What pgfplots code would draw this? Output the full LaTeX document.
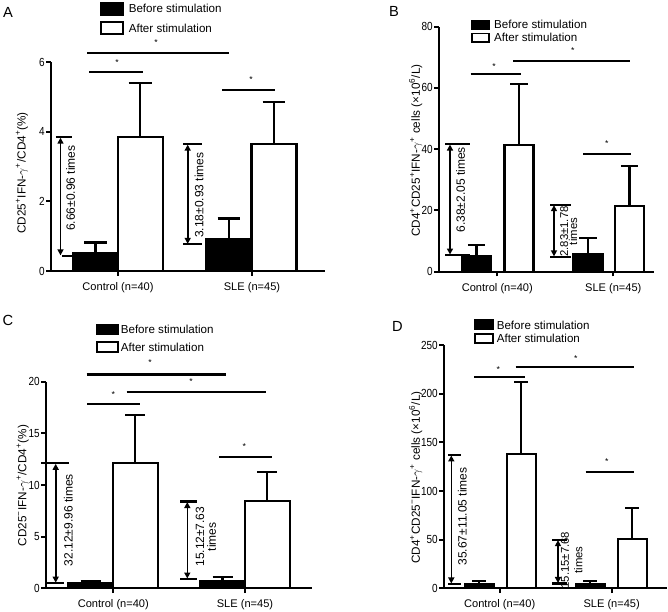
\documentclass[border=0pt]{standalone}
\usepackage{fontspec}
\setmainfont{Liberation Sans}
\newfontfamily\narrowfont{Liberation Sans}[FakeStretch=0.85]
\usepackage{pgfplots}
\pgfplotsset{compat=1.18}
\usetikzlibrary{arrows.meta}

\pgfplotsset{
  panel/.style={
    scale only axis, anchor=south west, clip=false,
    x=0.75pt, ymin=0, enlargelimits=false,
    axis lines=left,
    axis line style={-, line width=1.6pt, black},
    tick align=outside, major tick length=3.5pt,
    tick style={line width=1.5pt, black},
    minor tick num=0,
    /pgf/number format/assume math mode=true,
    yticklabel style={font=\narrowfont\fontsize{8.8}{10}\selectfont, text=black, inner sep=1pt},
    xticklabel style={font=\fontsize{8.3}{10}\selectfont, text=black},
    xticklabel shift=1.5pt,
    legend style={draw=none, fill=none, inner sep=0pt, anchor=north west,
      font=\fontsize{8.7}{10}\selectfont,
      nodes={inner sep=0.5pt, text height=6.3pt, text depth=0pt}},
    legend cell align=left,
  },
  before/.style={ybar, bar shift=0pt, fill=black, draw=black, line width=1.6pt},
  after/.style={ybar, bar shift=0pt, fill=white, draw=black, line width=1.6pt},
  ebar/.style={/pgfplots/error bars/y dir=plus, /pgfplots/error bars/y explicit,
    /pgfplots/error bars/error bar style={line width=1.6pt, black, solid},
    /pgfplots/error bars/error mark options={rotate=90, line width=1.6pt, black, mark size=#1}},
}
\tikzset{
  sig/.style={line width=1.6pt, black},
  dbl/.style={<->, >={Triangle[length=4.5pt,width=4.5pt]}, line width=1.2pt, black},
  star/.style={font=\fontsize{6.5}{6.5}\selectfont, inner sep=0pt},
  note/.style={rotate=90, font=\fontsize{9}{10}\selectfont, inner sep=0pt},
  ylab/.style={rotate=90, font=\fontsize{8.8}{10}\selectfont, inner sep=0pt},
  letter/.style={font=\fontsize{11}{12}\selectfont, inner sep=0pt},
}

\begin{document}
\begin{tikzpicture}
\useasboundingbox (0pt,0pt) rectangle (501pt,458.25pt);

% ---------------- Panel A ----------------
\begin{axis}[panel, at={(38.25pt,255pt)},
  xmin=51, xmax=325, ymax=6, y=26.1pt,
  xtick={118,252}, xticklabels={Control (n=40), SLE (n=45)},
  ytick={0,2,4,6},
  legend style={at={(0.1788,1.290)}, row sep=4.3pt,
    /tikz/every odd column/.append style={column sep=3pt}},
]
\addlegendimage{legend image code/.code={\draw[fill=black,draw=black,line width=1.4pt] (0pt,-4.4pt) rectangle (16.5pt,4.4pt);}}
\addlegendimage{legend image code/.code={\draw[fill=white,draw=black,line width=1.4pt] (0pt,-4.4pt) rectangle (16.5pt,4.4pt);}}
\addplot[before, bar width=33.75pt, ebar=8.6pt] coordinates {(95.5,0.51) +- (0,0.31) (229,0.91) +- (0,0.60)};
\addplot[after, bar width=33.75pt, ebar=8.6pt] coordinates {(140.2,3.86) +- (0,1.53) (274,3.65) +- (0,1.20)};
\legend{Before stimulation, After stimulation}
\draw[sig] (axis cs:56,3.85) -- (axis cs:72.5,3.85);
\draw[sig] (axis cs:62,0.43) -- (axis cs:72,0.43);
\draw[dbl] (axis cs:60.5,0.45) -- (axis cs:60.5,3.83);
\node[note] at (axis cs:70.7,2.38) {6.66±0.96 times};
\draw[sig] (axis cs:183,3.64) -- (axis cs:202,3.64);
\draw[sig] (axis cs:183,0.77) -- (axis cs:202,0.77);
\draw[dbl] (axis cs:187.7,0.78) -- (axis cs:187.7,3.63);
\node[note] at (axis cs:199,2.18) {3.18±0.93 times};
\draw[sig] (axis cs:87,6.27) -- (axis cs:229,6.27);
\node[star] at (axis cs:156,6.56) {*};
\draw[sig] (axis cs:89,5.72) -- (axis cs:143,5.72);
\node[star] at (axis cs:117,6.0) {*};
\draw[sig] (axis cs:222,5.2) -- (axis cs:275,5.2);
\node[star] at (axis cs:251,5.49) {*};
\node[ylab] at (axis cs:22,2.82) {CD25\textsuperscript{+}IFN-$\gamma$\textsuperscript{+}/CD4\textsuperscript{+}(\%)};
\node[letter] at (axis cs:8,7.44) {A};
\end{axis}

% ---------------- Panel B ----------------
\begin{axis}[panel, at={(329.25pt,254.5pt)},
  xmin=439, xmax=654, ymax=80, y=2.297pt,
  xtick={497.3,613.3}, xticklabels={Control (n=40), SLE (n=45)},
  ytick={0,20,40,60,80},
  legend style={at={(0.1488,1.030)}, row sep=2.2pt,
    /tikz/every odd column/.append style={column sep=2.5pt}},
]
\addlegendimage{legend image code/.code={\draw[fill=black,draw=black,line width=1.4pt] (0pt,-3.1pt) rectangle (12.75pt,3.1pt);}}
\addlegendimage{legend image code/.code={\draw[fill=white,draw=black,line width=1.4pt] (0pt,-3.1pt) rectangle (12.75pt,3.1pt);}}
\addplot[before, bar width=21.75pt, ebar=6.5pt] coordinates {(476.5,5.2) +- (0,3.5) (588,5.7) +- (0,5.2)};
\addplot[after, bar width=21.75pt, ebar=6.5pt] coordinates {(519,41.4) +- (0,19.9) (629.5,21.5) +- (0,13.0)};
\legend{Before stimulation, After stimulation}
\draw[sig] (axis cs:445,41.6) -- (axis cs:470,41.6);
\draw[sig] (axis cs:445,5.5) -- (axis cs:470,5.5);
\draw[dbl] (axis cs:450,5.6) -- (axis cs:450,41.5);
\node[note] at (axis cs:460.7,26.7) {6.38±2.05 times};
\draw[sig] (axis cs:550,21.8) -- (axis cs:570.5,21.8);
\draw[sig] (axis cs:550,4.9) -- (axis cs:570.5,4.9);
\draw[dbl] (axis cs:554,5.0) -- (axis cs:554,21.7);
\node[note, align=center, font=\fontsize{8.5}{6.75}\selectfont] at (axis cs:568.8,13.1) {2.83±1.78\\times};
\draw[sig] (axis cs:470.7,64.4) -- (axis cs:520.7,64.4);
\node[star] at (axis cs:494,66.9) {*};
\draw[sig] (axis cs:513,68.8) -- (axis cs:630,68.8);
\node[star] at (axis cs:572.7,72.1) {*};
\draw[sig] (axis cs:583,38.3) -- (axis cs:630.7,38.3);
\node[star] at (axis cs:606.7,41.7) {*};
\node[ylab] at (axis cs:415.7,39.5) {CD4\textsuperscript{+}CD25\textsuperscript{+}IFN-$\gamma$\textsuperscript{+} cells (×10\textsuperscript{6}/L)};
\node[letter] at (axis cs:394,84.9) {B};
\end{axis}

% ---------------- Panel C ----------------
\begin{axis}[panel, at={(34.5pt,17pt)},
  xmin=46, xmax=311.7, ymax=20, y=7.75pt,
  xtick={113.3,245}, xticklabels={Control (n=40), SLE (n=45)},
  ytick={0,5,10,15,20},
  legend style={at={(0.187,1.2827)}, row sep=4.3pt,
    /tikz/every odd column/.append style={column sep=1pt}},
]
\addlegendimage{legend image code/.code={\draw[fill=black,draw=black,line width=1.4pt] (0pt,-3.75pt) rectangle (15.75pt,3.75pt);}}
\addlegendimage{legend image code/.code={\draw[fill=white,draw=black,line width=1.4pt] (0pt,-3.75pt) rectangle (15.75pt,3.75pt);}}
\addplot[before, bar width=33.75pt, ebar=7.5pt] coordinates {(90.5,0.48) +- (0,0.23) (222.5,0.74) +- (0,0.39)};
\addplot[after, bar width=33.75pt, ebar=7.5pt] coordinates {(135.2,12.1) +- (0,4.68) (267.2,8.45) +- (0,2.78)};
\legend{Before stimulation, After stimulation}
\draw[sig] (axis cs:41,12.1) -- (axis cs:69.3,12.1);
\draw[sig] (axis cs:45.7,0.5) -- (axis cs:64.3,0.5);
\draw[dbl] (axis cs:55.7,0.55) -- (axis cs:55.7,12.05);
\node[note] at (axis cs:68.3,6.6) {32.12±9.96 times};
\draw[sig] (axis cs:180,8.4) -- (axis cs:197.3,8.4);
\draw[sig] (axis cs:180,0.9) -- (axis cs:197.3,0.9);
\draw[dbl] (axis cs:187.3,0.95) -- (axis cs:187.3,8.35);
\node[note, align=center, font=\fontsize{9}{8.8}\selectfont] at (axis cs:205.8,5.0) {15.12±7.63\\times};
\draw[sig] (axis cs:86.7,20.7) -- (axis cs:226,20.7);
\node[star] at (axis cs:150,21.9) {*};
\draw[sig] (axis cs:126.7,19.0) -- (axis cs:266,19.0);
\node[star] at (axis cs:191,20.0) {*};
\draw[sig] (axis cs:87.3,17.8) -- (axis cs:140,17.8);
\node[star] at (axis cs:113.3,18.8) {*};
\draw[sig] (axis cs:219,12.7) -- (axis cs:272.3,12.7);
\node[star] at (axis cs:244.3,13.7) {*};
\node[ylab] at (axis cs:22.7,9.95) {CD25\textsuperscript{−}IFN-$\gamma$\textsuperscript{+}/CD4\textsuperscript{+}(\%)};
\node[letter] at (axis cs:8,25.97) {C};
\end{axis}

% ---------------- Panel D ----------------
\begin{axis}[panel, at={(333pt,17pt)},
  xmin=444, xmax=667, ymax=250, y=0.73pt,
  xtick={499.7,611.7}, xticklabels={Control (n=40), SLE (n=45)},
  ytick={0,50,100,150,200,250},
  legend style={at={(0.1345,1.107)}, row sep=1.8pt,
    /tikz/every odd column/.append style={column sep=1.5pt}},
]
\addlegendimage{legend image code/.code={\draw[fill=black,draw=black,line width=1.4pt] (0pt,-3.5pt) rectangle (13.5pt,3.5pt);}}
\addlegendimage{legend image code/.code={\draw[fill=white,draw=black,line width=1.4pt] (0pt,-3.5pt) rectangle (13.5pt,3.5pt);}}
\addplot[before, bar width=21.75pt, ebar=5.3pt] coordinates {(479.3,4.45) +- (0,3.05) (590.2,4.5) +- (0,3.0)};
\addplot[after, bar width=21.75pt, ebar=5.3pt] coordinates {(521.2,138) +- (0,74) (632.2,50.7) +- (0,32.2)};
\legend{Before stimulation, After stimulation}
\draw[sig] (axis cs:448.3,137) -- (axis cs:460.7,137);
\draw[sig] (axis cs:448.3,4.5) -- (axis cs:460.7,4.5);
\draw[dbl] (axis cs:451.3,5) -- (axis cs:451.3,136.5);
\node[note] at (axis cs:462.3,73.8) {35.67±11.05 times};
\draw[sig] (axis cs:552,50) -- (axis cs:567,50);
\draw[sig] (axis cs:552,5) -- (axis cs:567,5);
\draw[dbl] (axis cs:558,5.5) -- (axis cs:558,49.5);
\node[note, align=center, font=\fontsize{8.5}{10}\selectfont] at (axis cs:571.7,29) {15.15±7.68\\times};
\draw[sig] (axis cs:474,216.8) -- (axis cs:524.7,216.8);
\node[star] at (axis cs:498.3,224.3) {*};
\draw[sig] (axis cs:515.7,227) -- (axis cs:634,227);
\node[star] at (axis cs:575.7,236.3) {*};
\draw[sig] (axis cs:585.7,119.8) -- (axis cs:634,119.8);
\node[star] at (axis cs:606.7,130) {*};
\node[ylab] at (axis cs:415.7,113.8) {CD4\textsuperscript{+}CD25\textsuperscript{−}IFN-$\gamma$\textsuperscript{+} cells (×10\textsuperscript{6}/L)};
\node[letter] at (axis cs:397.3,268.8) {D};
\end{axis}
\end{tikzpicture}
\end{document}
